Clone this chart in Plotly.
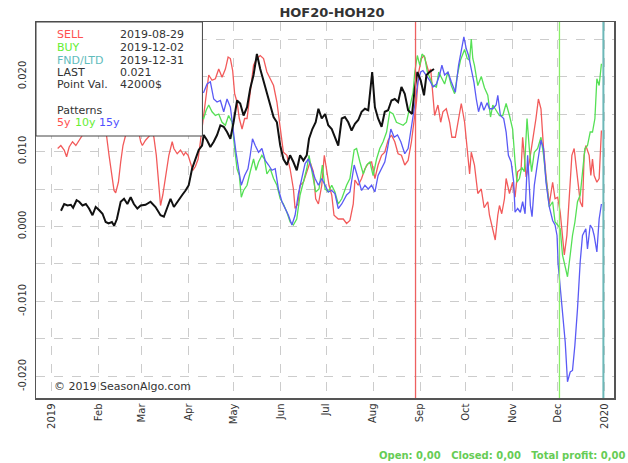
import pandas as pd
import plotly.graph_objects as go

# ---------------- data (day offset from 2019-01-01, value) ----------------
BASE = "2019-01-01"

last_days = [6, 8.1, 10.3, 12.5, 14, 16.3, 18, 20.2, 22.4, 24.5,
             26.8, 28.9, 31.1, 33.4, 35.5, 37.4, 39.6, 41.1, 42.9, 45.4,
             47.6, 49.8, 52, 54.1, 56.4, 58.6, 61.8, 65.1, 68.4, 71.7,
             73.9, 76.1, 78.3, 80.5, 82.7, 86, 88.2, 90.3, 92.5, 94.7,
             96.9, 99.1, 100.2, 102.4, 104.6, 106.8, 109, 111.2, 113.4, 115.6,
             117.8, 119.9, 122.2, 124.3, 126.5, 128.8, 130.9, 133.1, 135.3, 137.5,
             139.7, 141.9, 144.1, 146.3, 148.5, 150.7, 152.8, 155.1, 157.2, 159.4,
             161.6, 163.8, 166, 168.2, 169.7, 171.9, 174.1, 175.9, 178.1, 180.3,
             182.4, 184.7, 186.8, 189, 191.3, 193.4, 195.6, 197.8, 200, 202.2,
             204.4, 206.6, 208.8, 211.4, 213.2, 215.3, 217.6, 219.7, 221.9, 224.1,
             226.3, 228.5, 230.7, 232.9, 235.1, 237.7, 239.5, 241.2, 243.4, 245.6,
             247.2, 249.3, 252.2]
last_vals = [0.0021, 0.0030, 0.0028, 0.0029, 0.0025, 0.0035, 0.0033, 0.0028, 0.0030, 0.0024,
             0.0015, 0.0026, 0.0022, 0.0017, 0.0006, 0.0004, 0.0006, 0.0001, 0.0010, 0.0033,
             0.0037, 0.0030, 0.0039, 0.0030, 0.0024, 0.0028, 0.0029, 0.0033, 0.0026, 0.0015,
             0.0013, 0.0024, 0.0037, 0.0026, 0.0033, 0.0042, 0.0048, 0.0055, 0.0077, 0.0090,
             0.0102, 0.0108, 0.0122, 0.0115, 0.0106, 0.0113, 0.0122, 0.0135, 0.0133, 0.0126,
             0.0117, 0.0139, 0.0168, 0.0164, 0.0148, 0.0159, 0.0184, 0.0202, 0.0230, 0.0210,
             0.0193, 0.0177, 0.0162, 0.0146, 0.0139, 0.0108, 0.0090, 0.0082, 0.0095, 0.0086,
             0.0075, 0.0095, 0.0088, 0.0095, 0.0117, 0.0130, 0.0139, 0.0157, 0.0144, 0.0150,
             0.0135, 0.0130, 0.0119, 0.0108, 0.0144, 0.0146, 0.0139, 0.0128, 0.0137, 0.0142,
             0.0153, 0.0157, 0.0155, 0.0206, 0.0159, 0.0144, 0.0133, 0.0153, 0.0155, 0.0168,
             0.0170, 0.0166, 0.0186, 0.0177, 0.0155, 0.0150, 0.0184, 0.0206, 0.0195, 0.0175,
             0.0202, 0.0206, 0.0210]

pattern_5y = [
    (3.8, 0.0104), (5.9, 0.0108), (8.1, 0.0102), (9.7, 0.0093), (11.4, 0.0106), (13.6, 0.0113),
    (15.8, 0.0108), (18, 0.0115), (20.2, 0.0122), (23, 0.0150), (26, 0.0168), (29, 0.0175),
    (32, 0.0160), (34.5, 0.0140), (36, 0.0122), (37.7, 0.0095), (39.5, 0.0068), (41, 0.0048),
    (42.1, 0.0045), (43.9, 0.0059), (45.4, 0.0086), (46.9, 0.0108), (48.7, 0.0122), (51, 0.0150),
    (54, 0.0160), (56, 0.0140), (57.4, 0.0122), (58.6, 0.0113), (59.7, 0.0108), (61.8, 0.0115),
    (64.5, 0.0121), (66, 0.0128), (67.3, 0.0119), (68.9, 0.0095), (70.2, 0.0064), (71.7, 0.0028),
    (73.2, 0.0042), (75, 0.0068), (77.2, 0.0095), (79.4, 0.0113), (80.5, 0.0104), (82.7, 0.0097),
    (84.9, 0.0102), (87, 0.0095), (88.2, 0.0099), (89.9, 0.0095), (91.4, 0.0085), (93, 0.0075),
    (94.7, 0.0080), (96.5, 0.0090), (98, 0.0113), (100.2, 0.0148), (101.8, 0.0170), (103.5, 0.0202),
    (105.7, 0.0195), (107.9, 0.0197), (110.1, 0.0210), (112.3, 0.0199), (114.5, 0.0210), (116.3, 0.0226),
    (117.8, 0.0224), (119.3, 0.0208), (120.6, 0.0177), (122.2, 0.0166), (123.7, 0.0144), (125.5, 0.0130),
    (127.2, 0.0144), (128.8, 0.0144), (130.9, 0.0179), (133.1, 0.0215), (135.3, 0.0224), (137.5, 0.0228),
    (139.7, 0.0224), (141.9, 0.0206), (144.1, 0.0197), (146.3, 0.0188), (148.5, 0.0166), (150.7, 0.0130),
    (152.8, 0.0099), (155.1, 0.0095), (157.2, 0.0077), (159.4, 0.0050), (160.5, 0.0024), (162.3, 0.0030),
    (163.8, 0.0055), (166, 0.0059), (168.2, 0.0073), (170.4, 0.0086), (172.6, 0.0073), (174.1, 0.0037),
    (175.9, 0.0030), (178.1, 0.0055), (179.8, 0.0095), (181.4, 0.0073), (182.9, 0.0055), (184.7, 0.0042),
    (186.2, 0.0015), (189, 0.0010), (192.3, 0.0010), (194.5, 0.0004), (196.7, 0.0008), (198.9, 0.0030),
    (200, 0.0062), (202.2, 0.0055), (204.4, 0.0064), (206.6, 0.0077), (208.8, 0.0084), (211, 0.0086),
    (213.2, 0.0064), (215.3, 0.0082), (217.6, 0.0095), (219.7, 0.0099), (221.9, 0.0115), (224.1, 0.0122),
    (226.3, 0.0113), (228.5, 0.0097), (230.7, 0.0095), (232.9, 0.0082), (235.1, 0.0088), (237.3, 0.0113),
    (239, 0.0139), (240.6, 0.0166), (242.1, 0.0206), (243.9, 0.0224), (245.6, 0.0228), (247.2, 0.0215),
    (248.7, 0.0206), (250, 0.0210), (251.5, 0.0170), (252.6, 0.0148), (254.8, 0.0162), (256.6, 0.0139),
    (258.1, 0.0153), (260.3, 0.0157), (262.5, 0.0139), (264, 0.0119), (266.3, 0.0119), (268, 0.0139),
    (270.2, 0.0164), (272.4, 0.0139), (274.1, 0.0104), (275.7, 0.0070), (276.8, 0.0099), (278.9, 0.0082),
    (281.1, 0.0044), (283.4, 0.0050), (285.3, 0.0025), (287.7, 0.0033), (288.8, 0.0015), (291, -0.0003),
    (292.6, -0.0018), (294.3, 0.0015), (295.4, 0.0028), (296.9, 0.0017), (298.7, 0.0037), (299.8, 0.0064),
    (302, 0.0044), (304.1, 0.0059), (305.7, 0.0039), (307.4, 0.0073), (309.7, 0.0077), (310.7, 0.0119),
    (313, 0.0066), (315.1, 0.0086), (317.3, 0.0113), (319.5, 0.0144), (321.1, 0.0170), (322.8, 0.0157),
    (324.5, 0.0104), (326.1, 0.0068), (328.3, 0.0030), (330.5, 0.0059), (332.1, 0.0037), (333.8, 0.0039),
    (335.5, 0.0019), (337, -0.0012), (338.2, -0.0038), (339.9, -0.0012), (341.4, 0.0033), (343.2, 0.0095),
    (344.7, 0.0104), (346.9, 0.0068), (348.7, 0.0033), (350.2, 0.0026), (351.3, 0.0095), (352.4, 0.0108),
    (354.6, 0.0095), (355.7, 0.0068), (356.8, 0.0090), (357.9, 0.0068), (359.7, 0.0059), (361.2, 0.0064),
    (362.7, 0.0128)]

pattern_10y = [
    (3, 0.0160), (12, 0.0175), (22, 0.0168), (32, 0.0182), (42, 0.0170), (52, 0.0185), (62, 0.0175),
    (72, 0.0165), (82, 0.0172), (92, 0.0160), (100.2, 0.0144), (101.8, 0.0155), (103.5, 0.0162),
    (105.7, 0.0153), (107.9, 0.0148), (110.1, 0.0150), (112.3, 0.0139), (114.5, 0.0135), (116.6, 0.0148),
    (118.9, 0.0139), (120.6, 0.0104), (122.2, 0.0077), (123.7, 0.0068), (125, 0.0039), (126.5, 0.0048),
    (128.8, 0.0055), (130.9, 0.0073), (133.1, 0.0090), (134.7, 0.0075), (136.4, 0.0086), (138.6, 0.0095),
    (140.3, 0.0090), (141.9, 0.0070), (144.1, 0.0077), (146.3, 0.0064), (148.5, 0.0055), (150.7, 0.0037),
    (152.8, 0.0030), (155.1, 0.0019), (157.2, 0.0006), (159.4, 0.0002), (161.6, 0.0010), (163.8, 0.0042),
    (166, 0.0059), (168.2, 0.0077), (169.7, 0.0095), (171.9, 0.0070), (174.1, 0.0046), (176.3, 0.0050),
    (178.5, 0.0082), (180.3, 0.0050), (182.4, 0.0046), (184.7, 0.0055), (186.8, 0.0046), (189, 0.0030),
    (191.3, 0.0037), (194.5, 0.0055), (196.7, 0.0064), (199.5, 0.0102), (201.1, 0.0104), (203.3, 0.0086),
    (205.5, 0.0070), (207.7, 0.0082), (209.9, 0.0086), (212, 0.0068), (214.3, 0.0090), (216.4, 0.0104),
    (218.6, 0.0113), (220.9, 0.0126), (223, 0.0153), (225.2, 0.0150), (227.4, 0.0139), (229.6, 0.0137),
    (231.8, 0.0135), (234, 0.0139), (236.2, 0.0159), (238.4, 0.0179), (239.5, 0.0206), (241.2, 0.0228),
    (242.8, 0.0215), (244.3, 0.0230), (246.1, 0.0226), (247.8, 0.0206), (249.3, 0.0199), (251.5, 0.0188),
    (253.8, 0.0186), (255.3, 0.0206), (257, 0.0199), (259.2, 0.0190), (261.4, 0.0206), (263.6, 0.0188),
    (265.8, 0.0177), (267.6, 0.0202), (269.7, 0.0222), (271.3, 0.0232), (272.4, 0.0236), (274.1, 0.0224),
    (275.7, 0.0222), (276.8, 0.0250), (277.8, 0.0224), (278.9, 0.0215), (281.1, 0.0188), (283.4, 0.0200),
    (285.5, 0.0185), (287.7, 0.0175), (289.5, 0.0146), (291, 0.0162), (293.2, 0.0155), (295.4, 0.0148),
    (297.6, 0.0148), (299.8, 0.0164), (302, 0.0148), (304.1, 0.0130), (305.7, 0.0086), (307, 0.0059),
    (308.6, 0.0064), (310.1, 0.0079), (311.8, 0.0073), (313.6, 0.0144), (315.1, 0.0104), (316.6, 0.0073),
    (318.4, 0.0099), (320.6, 0.0104), (322.8, 0.0119), (324.5, 0.0095), (326.1, 0.0064), (328.3, 0.0026),
    (330.5, 0.0033), (332.1, 0.0006), (333.8, 0.0002), (335.5, -0.0003), (337, -0.0038), (338.8, -0.0052),
    (340.3, -0.0067), (342.1, -0.0038), (343.6, -0.0012), (345.2, 0.0006), (346.9, 0.0033), (348.7, 0.0042),
    (350.2, 0.0073), (351.8, 0.0104), (353.5, 0.0108), (355.3, 0.0126), (356.8, 0.0126), (358.4, 0.0144),
    (359.7, 0.0197), (361.2, 0.0188), (362.7, 0.0217)]

pattern_15y = [
    (3, 0.0185), (12, 0.0195), (22, 0.0180), (32, 0.0200), (42, 0.0185), (52, 0.0195), (62, 0.0190),
    (72, 0.0180), (82, 0.0185), (92, 0.0175), (100.2, 0.0179), (102.4, 0.0190), (104.6, 0.0193),
    (106.8, 0.0170), (109, 0.0166), (111.2, 0.0168), (113.4, 0.0153), (115.6, 0.0170), (117.8, 0.0159),
    (119.9, 0.0122), (121.5, 0.0099), (123.2, 0.0077), (125, 0.0055), (127.2, 0.0068), (129.4, 0.0077),
    (130.9, 0.0095), (132.4, 0.0117), (134.2, 0.0108), (136.4, 0.0099), (138.6, 0.0104), (140.8, 0.0088),
    (143, 0.0082), (145.2, 0.0075), (147.4, 0.0077), (149.5, 0.0050), (151.8, 0.0033), (154, 0.0024),
    (156.1, 0.0015), (158.4, 0.0002), (160.5, 0.0015), (162.7, 0.0044), (164.9, 0.0064), (167.1, 0.0084),
    (169.3, 0.0090), (171.5, 0.0077), (173.7, 0.0064), (175.9, 0.0055), (178.1, 0.0064), (180.3, 0.0055),
    (182.4, 0.0046), (184.7, 0.0048), (186.8, 0.0044), (189, 0.0024), (191.3, 0.0030), (194.5, 0.0042),
    (196.7, 0.0046), (199.5, 0.0082), (201.8, 0.0066), (204.4, 0.0048), (206.6, 0.0055), (208.8, 0.0050),
    (211, 0.0055), (213.2, 0.0046), (215.3, 0.0068), (217.6, 0.0077), (219.7, 0.0086), (221.5, 0.0104),
    (223.7, 0.0130), (225.9, 0.0119), (228.1, 0.0122), (230.3, 0.0113), (232.9, 0.0097), (235.1, 0.0104),
    (237.3, 0.0130), (239.5, 0.0162), (241.6, 0.0193), (243.4, 0.0206), (244.9, 0.0208), (247.2, 0.0202),
    (249.3, 0.0195), (251.5, 0.0186), (253.8, 0.0190), (255.9, 0.0202), (257.4, 0.0215), (259.2, 0.0202),
    (261.4, 0.0206), (263.6, 0.0193), (266.3, 0.0179), (268.4, 0.0215), (270.2, 0.0237), (271.9, 0.0253),
    (273.5, 0.0237), (275, 0.0228), (276.8, 0.0210), (278.5, 0.0193), (280.1, 0.0170), (281.6, 0.0153),
    (283.4, 0.0166), (285.1, 0.0155), (287.3, 0.0165), (288.8, 0.0157), (291, 0.0157), (293.2, 0.0162),
    (294.3, 0.0175), (296, 0.0148), (298.2, 0.0144), (299.8, 0.0126), (301.3, 0.0095), (303.1, 0.0086),
    (304.8, 0.0059), (305.7, 0.0019), (307.4, 0.0024), (309.2, 0.0019), (310.7, 0.0033), (312.3, 0.0017),
    (314, 0.0095), (315.8, 0.0028), (316.9, 0.0013), (318.4, 0.0055), (320.6, 0.0086), (322.8, 0.0115),
    (324.5, 0.0104), (326.1, 0.0059), (328.3, 0.0026), (330.5, 0.0008), (332.1, 0.0002), (333.4, -0.0012),
    (334.2, -0.0052), (336, -0.0096), (337.5, -0.0127), (338.8, -0.0154), (340.3, -0.0207), (342.1, -0.0194),
    (343.6, -0.0192), (345.2, -0.0158), (346.9, -0.0110), (348.7, -0.0047), (350.2, -0.0012), (352.4, -0.0003),
    (353.5, -0.0030), (355.3, 0.0002), (356.8, -0.0003), (357.9, -0.0012), (359.7, -0.0034), (361.2, 0.0010),
    (362.7, 0.0030)]

sell_date, buy_date, fnd_date = "2019-08-29", "2019-12-02", "2019-12-31"
month_ticks = pd.date_range("2019-01-01", "2020-01-01", freq="MS")
month_labels = ["2019", "Feb", "Mar", "Apr", "May", "Jun", "Jul", "Aug", "Sep", "Oct", "Nov", "Dec", "2020"]
y_ticks = [-0.020, -0.015, -0.010, -0.005, 0.000, 0.005, 0.010, 0.015, 0.020, 0.025]
y_labels = ["-0.020", "", "-0.010", "", "0.000", "", "0.010", "", "0.020", ""]

info_rows = [("SELL", "2019-08-29", "#ff5050"), ("BUY", "2019-12-02", "#66ee33"),
             ("FND/LTD", "2019-12-31", "#5fbcbc"), ("LAST", "0.021", "#333333"),
             ("Point Val.", "42000$", "#333333")]

# ---------------- figure ----------------
W, H = 628, 463
L, R, T, B = 36, 616, 22, 398


def to_dates(days):
    return pd.Timestamp(BASE) + pd.to_timedelta(list(days), unit="D")


def px_x(x):
    return (x - L) / (R - L)


def px_y(y):
    return (B - y) / (B - T)


fig = go.Figure()
for pts, col in [(pattern_5y, "#f25a5a"), (pattern_10y, "#55e055"), (pattern_15y, "#5a5af5")]:
    d, v = zip(*pts)
    fig.add_trace(go.Scatter(x=to_dates(d), y=list(v), mode="lines",
                             line=dict(color=col, width=1.3), hoverinfo="skip"))
fig.add_trace(go.Scatter(x=to_dates(last_days), y=last_vals, mode="lines",
                         line=dict(color="#111111", width=2), hoverinfo="skip"))

shapes = [
    dict(type="line", xref="x", yref="paper", x0=sell_date, x1=sell_date, y0=0, y1=1,
         line=dict(color="#ee6060", width=1.3), layer="above"),
    dict(type="line", xref="x", yref="paper", x0=buy_date, x1=buy_date, y0=0, y1=1,
         line=dict(color="#88ee66", width=1.3), layer="above"),
    dict(type="line", xref="x", yref="paper", x0=fnd_date, x1=fnd_date, y0=0, y1=1,
         line=dict(color="#6cb8b8", width=2), layer="above"),
    dict(type="rect", xref="paper", yref="paper", x0=0, x1=px_x(203), y0=px_y(136), y1=1,
         fillcolor="white", line=dict(color="#444444", width=1), layer="above"),
]

FONT = "DejaVu Sans"
ann = []
row_y = [35, 47.7, 60, 72.7, 85]
for (lab, val, col), yy in zip(info_rows, row_y):
    ann.append(dict(x=px_x(55), y=px_y(yy), text=lab, font=dict(color=col, size=11, family=FONT)))
    ann.append(dict(x=px_x(118), y=px_y(yy), text=val, font=dict(color="#333333", size=11, family=FONT)))
ann.append(dict(x=px_x(55), y=px_y(110), text="Patterns", font=dict(color="#333333", size=11, family=FONT)))
for lab, xx, col in [("5y", 55, "#ff5050"), ("10y", 73, "#66ee33"), ("15y", 97, "#5050ff")]:
    ann.append(dict(x=px_x(xx), y=px_y(123), text=lab, font=dict(color=col, size=11, family=FONT)))
ann.append(dict(x=px_x(52), y=px_y(386), text="© 2019 SeasonAlgo.com",
                font=dict(color="#333333", size=11, family=FONT)))
for a in ann:
    a.update(xref="paper", yref="paper", xanchor="left", yanchor="middle", showarrow=False)
ann.append(dict(xref="paper", yref="paper", x=px_x(629), y=px_y(455), xanchor="right", yanchor="middle",
                showarrow=False,
                text="<b>Open: 0,00   Closed: 0,00   Total profit: 0,00</b>".replace("   ", "&nbsp;&nbsp;&nbsp;"),
                font=dict(color="#66cc55", size=10, family=FONT)))

fig.update_layout(
    width=W, height=H,
    margin=dict(l=L, r=W - R, t=T, b=H - B, pad=0),
    paper_bgcolor="white", plot_bgcolor="white",
    showlegend=False,
    title=dict(text="<b>HOF20-HOH20</b>", x=332 / W, xref="container", xanchor="center",
               y=1 - 12 / H, yref="container", yanchor="middle",
               font=dict(family=FONT, size=13, color="#333333")),
    shapes=shapes, annotations=ann,
    font=dict(family=FONT, size=10, color="#333333"),
)
fig.update_xaxes(
    range=[pd.Timestamp("2018-12-21 12:00"), pd.Timestamp("2020-01-07")],
    tickvals=list(month_ticks), ticktext=month_labels, tickangle=-90,
    showgrid=True, gridcolor="#cccccc", griddash="dash", gridwidth=1,
    showline=True, linecolor="#555555", linewidth=1.5, mirror=True,
    zeroline=False, ticks="", tickfont=dict(size=10, family=FONT, color="#333333"),
)
fig.update_yaxes(
    range=[-0.02287, 0.02727],
    tickvals=y_ticks, ticktext=y_labels, tickangle=-90, ticklabelstandoff=5,
    showgrid=True, gridcolor="#cccccc", griddash="dash", gridwidth=1,
    showline=True, linecolor="#555555", linewidth=1.5, mirror=True,
    zeroline=False, ticks="", tickfont=dict(size=10, family=FONT, color="#333333"),
)

fig.write_html("out.html", config={"displayModeBar": False, "staticPlot": True},
               post_script="document.body.style.margin='0px';document.body.style.overflow='hidden';")
